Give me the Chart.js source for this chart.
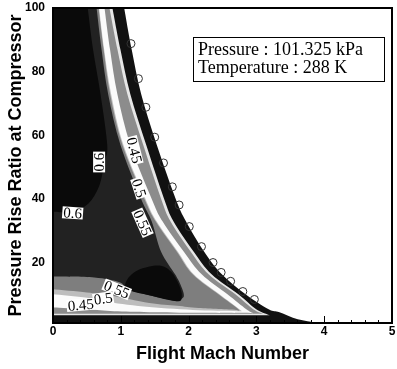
<!DOCTYPE html>
<html><head><meta charset="utf-8">
<script src="https://cdn.jsdelivr.net/npm/chart.js@4.4.1/dist/chart.umd.min.js"></script>
<style>html,body{margin:0;padding:0;background:#fff;overflow:hidden}</style>
</head><body>
<canvas id="c" width="397" height="369"></canvas>
<script>
// ---- data ----
const xTicks = [0, 1, 2, 3, 4, 5];
const yTicks = [20, 40, 60, 80, 100];
// heights at which band right-hand edges were read (bottom -> top)
const yLevels = [5.3, 10, 16.3, 23.4, 33, 40, 57, 73, 87, 100];
// x of each band's right edge at yLevels
const edgeX     = [3.18, 2.84, 2.49, 2.23, 1.96, 1.81, 1.53, 1.30, 1.16, 1.05];
const line1X    = [2.997, 2.734, 2.339, 2.076, 1.776, 1.639, 1.374, 1.140, 0.994, 0.877];
const greyX     = [2.953, 2.69, 2.295, 2.032, 1.732, 1.595, 1.330, 1.096, 0.95, 0.833];
const band045X  = [2.851, 2.573, 2.193, 1.93, 1.615, 1.456, 1.140, 0.949, 0.841, 0.76];
const band050X  = [2.749, 2.456, 2.076, 1.842, 1.528, 1.364, 1.038, 0.857, 0.754, 0.68];
const band055X  = [2.734, 2.44, 2.06, 1.827, 1.513, 1.349, 1.023, 0.842, 0.746, 0.672];
// lower edges (left -> right)
const edgeBottom    = [[0, 1], [4.2, 1]];
const edgeTail      = [[4.2, 1], [3.9, 1.2], [3.61, 2.2], [3.34, 4.4]];
const line1Bottom   = [[0, 3.4], [3.2, 3.4]];
const greyBottom    = [[0, 3.9], [3.1, 3.9]];
const band045Bottom = [[0, 5.9], [0.5, 5.3], [0.9, 4.7], [1.42, 4.4], [2.15, 4.2], [2.95, 4.1]];
const band050Bottom = [[0, 10], [0.5, 8.9], [0.83, 7.5], [1.42, 6.0], [2.15, 5.0], [2.78, 4.7]];
const band055Bottom = [[0, 11.6], [0.5, 10.6], [0.83, 9.7], [1.42, 7.3], [1.83, 6.4], [2.15, 5.7], [2.7, 5.1]];
const dark060Bottom = [[0, 15.6], [0.61, 15.3], [0.98, 13.8], [1.1, 11.6], [1.42, 9.7], [1.83, 7.8]];
const dark060Right  = [[1.83, 7.8], [1.93, 9.4], [1.88, 13.1], [1.80, 16.3], [1.594, 23.4], [1.455, 33], [1.30, 40], [0.994, 57], [0.813, 73], [0.716, 87], [0.643, 100]];
const core060Bottom = [[0, 36], [0.29, 36], [0.52, 38.5], [0.68, 44], [0.76, 51.6], [0.80, 57], [0.70, 73], [0.59, 87], [0.512, 100]];
const lobe060       = [[1.096, 11.6], [1.418, 9.7], [1.827, 7.8], [1.9, 9.4], [1.857, 13.1], [1.74, 17.2], [1.564, 19.1], [1.272, 17.8], [1.096, 14.7]];
const scallops = [[1.15, 88.8], [1.26, 77.8], [1.37, 68.8], [1.50, 59.4], [1.63, 51.3], [1.76, 43.8], [1.86, 38.1], [2.01, 31.3], [2.19, 25], [2.36, 20], [2.48, 16.9], [2.62, 14.1], [2.80, 10.9], [2.97, 8.4]];
const contourLabels = [
  ['0.45', 1.20, 55.3, 76], ['0.5', 1.27, 43.4, 72], ['0.55', 1.32, 32.5, 66],
  ['0.6', 0.68, 51.6, -90], ['0.6', 0.29, 35.6, 4],
  ['0.55', 0.94, 11.6, 22], ['0.5', 0.74, 8.7, -8], ['0.45', 0.41, 6.7, -5]
];
const legendLines = ['Pressure : 101.325 kPa', 'Temperature : 288 K'];
const xMinorStep = 0.2;

// ---- build band shapes ----
const zipRight = xs => xs.map((x, i) => [x, yLevels[i]]);
const pt = ([x, y]) => ({x, y});
function band(bottom, right, color) {
  const pts = [[0, 100], ...bottom, ...right];
  return {isBand: true, split: bottom.length, color, data: pts.map(pt), pointRadius: 0, showLine: false};
}
const bands = [
  band(edgeBottom, [...edgeTail.slice(1), ...zipRight(edgeX)], '#111111'),
  band(line1Bottom, zipRight(line1X), '#e6e6e6'),
  band(greyBottom, zipRight(greyX), '#8c8c8c'),
  band(band045Bottom, zipRight(band045X), '#fbfbfb'),
  band(band050Bottom, zipRight(band050X), '#bdbdbd'),
  band(band055Bottom, zipRight(band055X), '#7e7e7e'),
  band(dark060Bottom, dark060Right.slice(1), '#222222'),
  band(core060Bottom.slice(0, 1), core060Bottom.slice(1), '#0a0a0a'),
  {isBand: true, closed: true, color: '#0a0a0a', data: lobe060.map(pt), pointRadius: 0, showLine: false}
];

function smooth(ctx, pts, closed) {
  const n = pts.length;
  const g = i => closed ? pts[(i + n) % n] : pts[Math.max(0, Math.min(n - 1, i))];
  const segs = closed ? n : n - 1;
  for (let i = 0; i < segs; i++) {
    const p0 = g(i - 1), p1 = g(i), p2 = g(i + 1), p3 = g(i + 2);
    ctx.bezierCurveTo(p1.x + (p2.x - p0.x) / 6, p1.y + (p2.y - p0.y) / 6,
                      p2.x - (p3.x - p1.x) / 6, p2.y - (p3.y - p1.y) / 6, p2.x, p2.y);
  }
}

const bandPlugin = {
  id: 'bands',
  beforeDatasetsDraw(chart) {
    const ctx = chart.ctx, a = chart.chartArea;
    ctx.save();
    ctx.beginPath(); ctx.rect(a.left, a.top, a.right - a.left, a.bottom - a.top); ctx.clip();
    chart.data.datasets.forEach((ds, i) => {
      if (!ds.isBand) return;
      const p = chart.getDatasetMeta(i).data.map(e => ({x: e.x, y: e.y}));
      ctx.beginPath();
      if (ds.closed) {
        ctx.moveTo(p[0].x, p[0].y); smooth(ctx, p, true);
      } else {
        ctx.moveTo(p[0].x, p[0].y);
        ctx.lineTo(p[1].x, p[1].y);
        const bottom = p.slice(1, ds.split + 1);
        const right = p.slice(ds.split);
        if (bottom.length > 1) smooth(ctx, bottom, false);
        smooth(ctx, right, false);
      }
      ctx.closePath();
      ctx.fillStyle = ds.color;
      ctx.fill();
    });
    ctx.restore();
  },
  afterDatasetsDraw(chart) {
    const ctx = chart.ctx, xs = chart.scales.x, ys = chart.scales.y;
    ctx.save();
    ctx.font = '15px "Liberation Serif"';
    ctx.textAlign = 'center'; ctx.textBaseline = 'middle';
    contourLabels.forEach(([t, x, y, r]) => {
      const px = xs.getPixelForValue(x), py = ys.getPixelForValue(y);
      ctx.save();
      ctx.translate(px, py); ctx.rotate(r * Math.PI / 180);
      const w = ctx.measureText(t).width;
      ctx.fillStyle = '#fff'; ctx.fillRect(-w / 2 - 1, -6, w + 2, 12);
      ctx.fillStyle = '#000'; ctx.fillText(t, 0, 1);
      ctx.restore();
    });
    ctx.restore();
  },
  afterDraw(chart) {
    const ctx = chart.ctx, a = chart.chartArea, xs = chart.scales.x;
    ctx.save();
    ctx.strokeStyle = '#000'; ctx.lineWidth = 1;
    for (let v = xTicks[0]; v <= xTicks[xTicks.length - 1] + 1e-9; v += xMinorStep) {
      const major = Math.abs(v - Math.round(v)) < 1e-6;
      const px = Math.round(xs.getPixelForValue(v)) + 0.5;
      ctx.beginPath(); ctx.moveTo(px, a.bottom); ctx.lineTo(px, a.bottom - (major ? 7 : 3)); ctx.stroke();
    }
    ctx.lineWidth = 2;
    ctx.strokeRect(a.left, a.top, a.right - a.left, a.bottom - a.top);
    ctx.lineWidth = 1;
    ctx.fillStyle = '#fff';
    ctx.fillRect(193.5, 37.5, 191, 44);
    ctx.strokeRect(193.5, 37.5, 191, 44);
    ctx.fillStyle = '#000';
    ctx.font = '18px "Liberation Serif"';
    ctx.textAlign = 'left'; ctx.textBaseline = 'alphabetic';
    ctx.fillText(legendLines[0], 198, 55);
    ctx.fillText(legendLines[1], 198, 73);
    ctx.restore();
  }
};

const tickFont = {family: 'Liberation Sans', size: 12, weight: 'bold'};
const titleFont = {family: 'Liberation Sans', size: 18, weight: 'bold'};

new Chart(document.getElementById('c'), {
  type: 'scatter',
  data: {
    datasets: [
      ...bands,
      {data: scallops.map(pt), pointRadius: 4, pointBorderWidth: 1, pointBorderColor: '#333',
       pointBackgroundColor: 'rgba(0,0,0,0)', showLine: false}
    ]
  },
  options: {
    responsive: false, animation: false, events: [],
    layout: {padding: {top: 8, right: 2, left: 0, bottom: 0}},
    plugins: {legend: {display: false}, tooltip: {enabled: false}},
    scales: {
      x: {
        type: 'linear', min: 0, max: 5,
        afterBuildTicks: s => { s.ticks = xTicks.map(v => ({value: v})); },
        afterFit: s => { s.height = 46; s.paddingLeft = 0; s.paddingRight = 0; },
        grid: {display: false, drawTicks: false},
        border: {display: true, color: '#000', width: 1.5},
        ticks: {color: '#000', font: tickFont, padding: 1, maxRotation: 0, autoSkip: false},
        title: {display: true, text: 'Flight Mach Number', color: '#000', font: titleFont, padding: {top: 0, bottom: 4}}
      },
      y: {
        type: 'linear', min: 1, max: 100,
        afterBuildTicks: s => { s.ticks = yTicks.map(v => ({value: v})); },
        afterFit: s => { s.width = 53; s.paddingTop = 0; s.paddingBottom = 0; },
        grid: {display: false, drawTicks: false},
        border: {display: true, color: '#000', width: 1.5},
        ticks: {color: '#000', font: tickFont, padding: 8, autoSkip: false},
        title: {display: true, text: 'Pressure Rise Ratio at Compressor', color: '#000', font: titleFont, padding: {top: 5, bottom: 0}}
      }
    }
  },
  plugins: [bandPlugin]
});
</script>
</body></html>
